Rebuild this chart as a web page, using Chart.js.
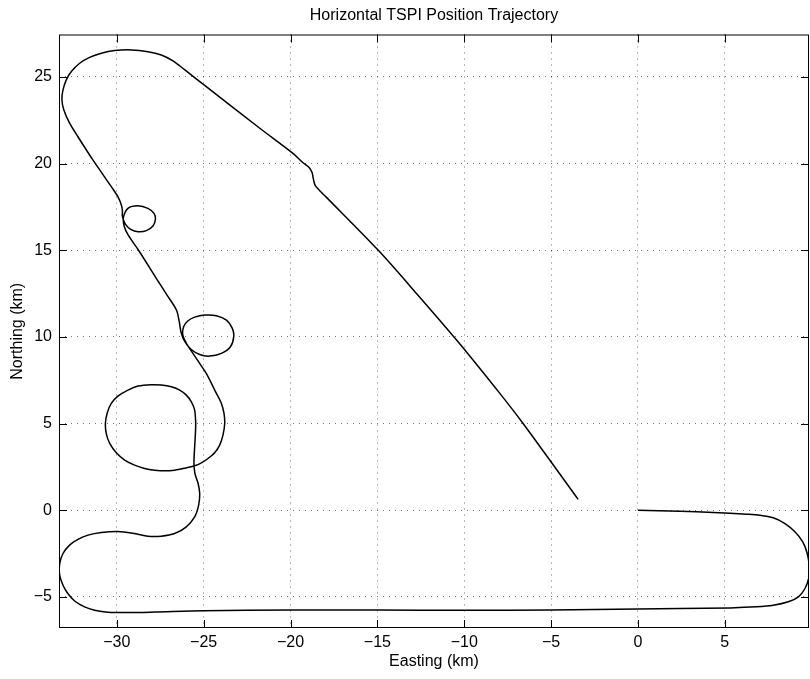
<!DOCTYPE html>
<html>
<head>
<meta charset="utf-8">
<script src="https://cdn.jsdelivr.net/npm/chart.js@4"></script>
<style>
  html, body { margin: 0; padding: 0; background: #fff; }
</style>
</head>
<body>
<canvas id="track-chart" width="810" height="679"></canvas>
<script>
// track (km), in flight order
const trackEasting = [
    0, 2.42, 4.34, 6.26, 7.03, 7.79, 8.47, 9.04, 9.49, 9.75, 9.87, 9.83, 9.62, 9.24, 8.66, 7.79,
    6.84, 5.3, 2.42, 0, -5, -10, -15, -20, -25, -27.82, -29.17, -30.51, -31.28, -31.86,
    -32.43, -32.82, -33.1, -33.29, -33.29, -33.1, -32.72, -32.24, -31.66, -30.89, -29.94,
    -28.98, -28.21, -27.44, -26.67, -26.0, -25.52, -25.29, -25.23, -25.32, -25.5, -25.56,
    -25.52, -25.48, -25.46, -25.52, -25.71, -26.0, -26.38, -26.86, -27.44, -28.01, -28.78,
    -29.36, -29.94, -30.32, -30.55, -30.66, -30.6, -30.41, -30.03, -29.55, -28.98, -28.4,
    -27.82, -27.24, -26.67, -26.1, -25.52, -25.13, -24.75, -24.37, -24.08, -23.89, -23.79,
    -23.83, -23.98, -24.3, -24.85, -25.25, -25.62, -25.95, -26.2, -26.15, -25.9,
    -25.52, -24.94, -24.27, -23.69, -23.35, -23.27, -23.46, -23.98, -24.65, -25.23, -25.75,
    -26.1, -26.3, -26.4, -26.57, -27.11, -27.73, -28.75, -29.36, -29.58, -29.62, -29.36,
    -28.78, -28.21, -27.86, -27.78, -27.92, -28.3, -28.78, -29.2, -29.51, -29.68, -29.68,
    -29.74, -29.94, -30.32, -31.38, -32.24, -32.72, -33.05, -33.16, -33.1, -32.91, -32.62,
    -32.14, -31.57, -30.89, -30.13, -29.17, -28.21, -27.44, -26.77, -26.1, -24.98, -21.77,
    -19.86, -19.28, -18.93, -18.76, -18.68, -18.59, -18.36, -17.93, -14.96, -12.75, -10.44,
    -7.95, -6.61, -3.44
];
const trackNorthing = [
    0, -0.06, -0.13, -0.23, -0.29, -0.44, -0.77, -1.25, -1.83, -2.5, -3.27, -3.94, -4.52, -5.0, -5.29, -5.49,
    -5.58, -5.64, -5.68, -5.7, -5.76, -5.78, -5.76, -5.76, -5.8, -5.88, -5.91, -5.89, -5.77, -5.58,
    -5.24, -4.81, -4.33, -3.75, -3.08, -2.5, -2.02, -1.69, -1.44, -1.29, -1.23,
    -1.35, -1.5, -1.5, -1.35, -0.96, -0.39, 0.29, 0.96, 1.54, 2.1, 2.7,
    3.65, 4.33, 5.0, 5.77, 6.25, 6.64, 6.93, 7.12, 7.22, 7.24, 7.16,
    6.93, 6.58, 6.16, 5.62, 5.0, 4.39, 3.85, 3.31, 2.89, 2.6, 2.41,
    2.31, 2.27, 2.31, 2.42, 2.56, 2.73, 2.98, 3.31, 3.75, 4.33, 5.0,
    5.58, 6.16, 6.8, 7.89, 8.5, 9.05, 9.55, 10.1, 10.6, 10.93,
    11.14, 11.26, 11.22, 10.97, 10.49, 10.0, 9.43, 9.05, 8.89, 8.98, 9.3,
    9.75, 10.25, 10.85, 11.55, 12.41, 13.38, 15.0, 15.9, 16.4, 16.9, 17.42,
    17.57, 17.42, 17.13, 16.78, 16.4, 16.13, 16.07, 16.21, 16.51, 16.95, 17.3,
    17.61, 18.09, 18.67, 20.21, 21.55, 22.33, 23.09, 23.67, 24.25, 24.83, 25.31,
    25.79, 26.13, 26.37, 26.52, 26.56, 26.46, 26.27, 25.93, 25.42, 24.54, 22.04,
    20.59, 20.05, 19.78, 19.48, 19.09, 18.76, 18.48, 18.05, 15.01, 12.51, 9.82,
    6.74, 5.0, 0.62
];

const xTicks = [-30, -25, -20, -15, -10, -5, 0, 5];
const yTicks = [-5, 0, 5, 10, 15, 20, 25];
const xRange = [-33.33, 9.85];
const yRange = [-6.8, 27.45];

const FONT = "'Liberation Sans', Arial, Helvetica, sans-serif";
const FS = 16;

function fmtTick(v) {
    return v < 0 ? "\u2212" + Math.abs(v) : String(v);
}

// matlab style box with ticks pointing inwards
const boxPlugin = {
    id: "box",
    afterDatasetsDraw(chart) {
        const { ctx, chartArea: a, scales } = chart;
        const len = 8;
        ctx.save();
        ctx.strokeStyle = "#000";
        ctx.lineWidth = 1;
        ctx.beginPath();
        xTicks.forEach(v => {
            const px = Math.round(scales.x.getPixelForValue(v)) + 0.5;
            ctx.moveTo(px, a.bottom); ctx.lineTo(px, a.bottom - len);
            ctx.moveTo(px, a.top); ctx.lineTo(px, a.top + len);
        });
        yTicks.forEach(v => {
            const py = Math.round(scales.y.getPixelForValue(v)) + 0.5;
            ctx.moveTo(a.left, py); ctx.lineTo(a.left + len, py);
            ctx.moveTo(a.right, py); ctx.lineTo(a.right - len, py);
        });
        ctx.stroke();
        ctx.strokeRect(a.left + 0.5, a.top + 0.5, a.right - a.left - 1, a.bottom - a.top - 1);
        ctx.restore();
    }
};

const points = trackEasting.map((e, i) => ({ x: e, y: trackNorthing[i] }));

new Chart(document.getElementById("track-chart"), {
    type: "scatter",
    data: {
        datasets: [{
            data: points,
            showLine: true,
            borderColor: "#000",
            borderWidth: 1.5,
            pointRadius: 0,
            tension: 0.3,
            fill: false,
        }],
    },
    options: {
        responsive: false,
        animation: false,
        devicePixelRatio: 1,
        layout: { padding: { left: 0, right: 1, top: 0, bottom: 0 } },
        plugins: {
            legend: { display: false },
            tooltip: { enabled: false },
            title: {
                display: true,
                fullSize: false,
                text: "Horizontal TSPI Position Trajectory",
                color: "#000",
                font: { family: FONT, size: FS, weight: "normal", lineHeight: 1.2 },
                padding: { top: 5.5, bottom: 9.8 },
            },
        },
        scales: {
            x: {
                type: "linear",
                min: xRange[0],
                max: xRange[1],
                afterBuildTicks: (s) => { s.ticks = xTicks.map(v => ({ value: v })); },
                afterFit: (s) => { s.height = 51; },
                grid: { color: "rgba(0,0,0,0.55)", lineWidth: 1, drawTicks: false },
                border: { display: false, dash: [1, 5] },
                ticks: { color: "#000", font: { family: FONT, size: FS }, padding: 5, callback: fmtTick, maxRotation: 0 },
                title: {
                    display: true, text: "Easting (km)", color: "#000",
                    font: { family: FONT, size: FS, lineHeight: 1.2 }, padding: { top: 0, bottom: 8 },
                },
            },
            y: {
                type: "linear",
                min: yRange[0],
                max: yRange[1],
                afterBuildTicks: (s) => { s.ticks = yTicks.map(v => ({ value: v })); },
                afterFit: (s) => { s.width = 59; },
                grid: { color: "rgba(0,0,0,0.55)", lineWidth: 1, drawTicks: false },
                border: { display: false, dash: [1, 5] },
                ticks: { color: "#000", font: { family: FONT, size: FS }, padding: 7, callback: fmtTick },
                title: {
                    display: true, text: "Northing (km)", color: "#000",
                    font: { family: FONT, size: FS, lineHeight: 1.2 }, padding: { top: 8, bottom: 0 },
                },
            },
        },
    },
    plugins: [boxPlugin],
});
</script>
</body>
</html>
